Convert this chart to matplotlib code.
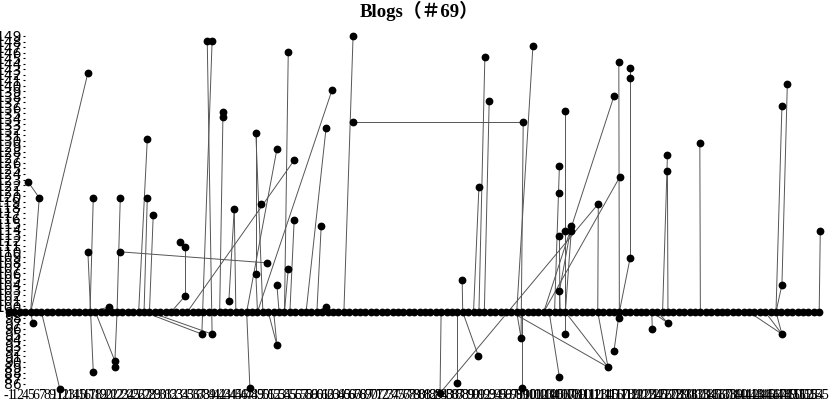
import matplotlib
matplotlib.use("Agg")
import matplotlib.pyplot as plt

title = "Blogs（＃69）"

# baseline: one node per x position, all at y = 99
n_base = 151
base_y = 99

x_labels = ([-1, 1, 2, 4, 5, 6, 7, 8, 9] + list(range(11, 40)) + list(range(41, 77))
            + list(range(78, 120)) + list(range(121, 156)))

y_ticks = list(range(86, 150))

# nodes off the baseline
node_names = ["A", "B", "C", "D", "E", "F", "G", "H", "I", "J", "J2", "K", "L", "M",
              "N", "N2", "O", "P", "Q", "R", "S1", "S2", "T1", "T2", "U1", "U2", "V",
              "W", "Xn", "Yn", "Z", "AA", "AB", "AC", "AD", "AE", "AF", "AG", "AH", "AI",
              "AJ", "AK", "AL", "AM", "AN", "AO", "AP",
              "BA", "BB", "BC", "BD", "BF", "BG", "BH", "BI", "BJ", "BK", "BL", "BM",
              "BN", "BO", "BP", "BQ", "BR", "BS", "BT", "BU", "BV", "BW", "BX", "BY",
              "BZ", "CA", "CB", "CC", "CD",
              "DA", "DB", "DC", "DD", "DE", "DF", "DG", "DH", "DI", "DJ"]
node_x = [3.5, 5.6, 14.6, 4.4, 9.4, 15.6, 14.6, 15.6, 20.6, 20.6, 47.8, 18.5, 19.6, 19.6,
          25.6, 25.6, 26.7, 31.7, 32.6, 32.6, 35.7, 37.6, 36.7, 37.6, 39.6, 39.6, 45.7,
          49.6, 52.8, 51.7, 59.8, 58.7, 63.7, 63.7, 95.2, 94.8, 41.7, 40.7, 46.7, 45.7,
          52.8, 51.7, 49.6, 57.8, 58.7, 49.6, 44.6,
          83.9, 79.8, 83.0, 86.9, 95.0, 101.9, 110.9, 112.0, 113.0, 103.0, 101.9, 103.0,
          104.1, 104.1, 101.9, 109.1, 88.1, 88.9, 87.0, 97.0, 101.9, 101.9, 103.0, 113.1,
          112.0, 112.9, 115.0, 115.0, 115.0,
          119.1, 122.0, 121.9, 121.9, 127.9, 143.1, 143.1, 143.1, 144.1, 150.2]
node_y = [122.6, 119.7, 142.3, 97.0, 85.1, 119.7, 109.9, 88.1, 119.7, 109.9, 107.9, 99.9,
          90.1, 89.0, 130.3, 119.7, 116.6, 111.7, 110.8, 101.9, 95.0, 95.0, 148.1, 148.1,
          135.2, 134.3, 131.4, 128.5, 126.5, 146.1, 139.2, 132.3, 149.0, 133.4, 133.4,
          94.3, 117.7, 101.0, 118.6, 105.9, 115.7, 106.8, 103.9, 114.6, 99.9, 93.0, 85.2,
          104.8, 84.3, 86.1, 91.0, 85.2, 87.2, 89.0, 91.9, 97.9, 95.0, 112.8, 113.7,
          114.6, 113.7, 102.8, 118.6, 145.2, 137.2, 121.6, 147.2, 125.4, 120.6, 135.4,
          123.5, 138.1, 144.3, 143.2, 141.4, 108.8,
          96.0, 97.0, 127.4, 124.5, 129.6, 103.9, 95.0, 136.3, 140.3, 113.7]

# parent links, "bN" is baseline node N
edges = [("A", "B"), ("B", "b4"), ("C", "b4"), ("D", "b4"), ("E", "b6"),
         ("F", "b15"), ("G", "H"), ("I", "b20"), ("J", "J2"), ("K", "b15"),
         ("L", "b20"), ("L", "b16"), ("M", "L"),
         ("N", "b24"), ("N2", "b25"), ("O", "b26"), ("P", "Q"), ("Q", "R"), ("R", "b30"),
         ("Xn", "b33"), ("S1", "b25"), ("S2", "b26"), ("T1", "S2"), ("T2", "S1"),
         ("U1", "U2"), ("U2", "b39"), ("V", "AI"), ("V", "b47"), ("AI", "b46"),
         ("W", "b44"), ("AP", "b44"), ("Yn", "b51"), ("Z", "b46"), ("AA", "b55"),
         ("AB", "b62"), ("AC", "AD"), ("AD", "AE"), ("AE", "b94"),
         ("AF", "b42"), ("AG", "AF"), ("AJ", "b52"), ("AK", "b51"), ("AL", "b50"),
         ("AM", "b57"), ("AN", "b57"), ("AO", "b48"), ("AO", "b49"),
         ("BA", "b84"), ("BB", "b80"), ("BB", "BQ"), ("BC", "b83"), ("BD", "b84"),
         ("BF", "b95"), ("BU", "b94"), ("BG", "b100"),
         ("BH", "b93"), ("BH", "b103"), ("BH", "b109"), ("BI", "b113"), ("BJ", "b113"),
         ("BK", "b103"), ("BP", "BN"), ("BP", "b102"), ("BL", "b102"), ("BM", "b103"),
         ("BO", "b103"), ("BQ", "b109"), ("BR", "b87"), ("BS", "b88"), ("BT", "b86"),
         ("BV", "b101"), ("BX", "b103"), ("BY", "b99"), ("BZ", "b99"), ("CA", "b113"),
         ("CB", "CD"), ("CD", "b113"),
         ("DA", "b119"), ("DB", "b119"), ("DB", "b120"), ("DC", "b121"), ("DD", "b122"),
         ("DE", "b128"), ("DF", "b142"), ("DI", "DF"), ("DH", "b142"),
         ("DG", "b137"), ("DG", "b140"), ("DG", "b142"), ("DJ", "b150")]


def node_pos(key):
    if key.startswith("b") and key[1:].isdigit():
        return int(key[1:]), base_y
    i = node_names.index(key)
    return node_x[i], node_y[i]


fig = plt.figure(figsize=(8.3, 4.04), dpi=100)
ax = fig.add_axes([0.0, 0.0396, 1.0, 0.8787])

for a, b in edges:
    xa, ya = node_pos(a)
    xb, yb = node_pos(b)
    ax.plot([xa, xb], [ya, yb], color="#555555", lw=0.7, zorder=1, clip_on=False)

base_x = list(range(n_base))
ax.plot(base_x, [base_y] * n_base, color="black", lw=0.8, zorder=2)
ax.plot(base_x, [base_y] * n_base, "o", color="black", ms=4.6, zorder=3, clip_on=False)
ax.plot(node_x, node_y, "o", color="black", ms=4.6, zorder=3, clip_on=False)

ax.set_xlim(-1.67, 152.0)
ax.set_ylim(85.23, 149.54)

ax.set_xticks(base_x)
ax.set_xticklabels([str(v) for v in x_labels[:n_base]], fontsize=10,
                   family="Liberation Serif")
ax.set_yticks(y_ticks)
ax.set_yticklabels([str(v) for v in y_ticks], fontsize=10, family="Liberation Serif")

for s in ["top", "right", "bottom"]:
    ax.spines[s].set_visible(False)
ax.spines["left"].set_position(("axes", 25 / 830))
ax.spines["left"].set_visible(False)
ax.tick_params(axis="y", length=1.5, width=0.8, pad=1)
ax.tick_params(axis="x", length=0, pad=1)

fig.text(0.505, 0.998, title, ha="center", va="top", fontsize=13.5, fontweight="bold",
         family=["Liberation Serif", "Noto Sans CJK SC"])

fig.savefig("out.png", dpi=100)
